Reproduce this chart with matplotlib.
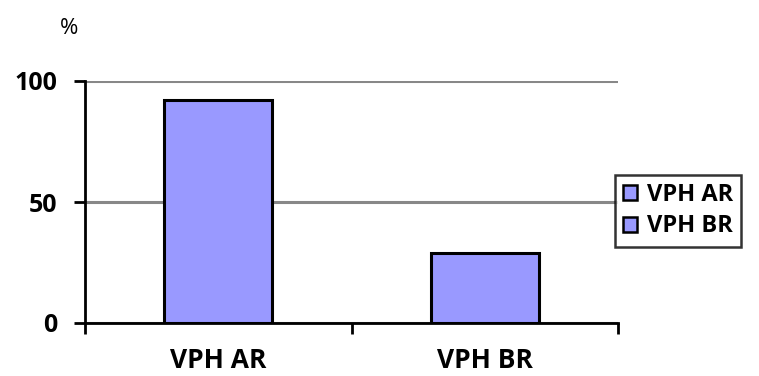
import matplotlib.pyplot as plt
from matplotlib.patches import Patch

# data
categories = ['VPH AR', 'VPH BR']
values = [92, 29]
yticks = [0, 50, 100]

plt.rcParams['font.family'] = ['Open Sans', 'DejaVu Sans']

fig = plt.figure(figsize=(7.59, 3.76), dpi=100)
ax = fig.add_axes([85 / 759, 1 - 323 / 376, (618 - 85) / 759, (323 - 81) / 376])

x = range(len(categories))
ax.bar(x, values, width=0.405, color='#9999ff', edgecolor='black', linewidth=2.2, zorder=3)

ax.set_xlim(-0.5, len(categories) - 0.5)
ax.set_ylim(0, 100)
ax.set_yticks(yticks)
ax.set_yticklabels([str(t) for t in yticks], fontsize=18, fontweight='bold')
ax.yaxis.grid(True, color='#888888', linewidth=2.2, zorder=0)
ax.tick_params(axis='y', direction='out', length=8, width=2, pad=12)

ax.set_xticks(list(x))
ax.set_xticklabels(categories, fontsize=19, fontweight='bold')
ax.set_xticks([-0.5, 0.5, 1.5], minor=True)
ax.tick_params(axis='x', which='major', length=0, pad=17)
ax.tick_params(axis='x', which='minor', direction='out', length=8, width=2)

for s in ['top', 'right']:
    ax.spines[s].set_visible(False)
for s in ['left', 'bottom']:
    ax.spines[s].set_linewidth(2)

fig.text(69 / 759, 1 - 28 / 376, '%', fontsize=16, ha='center', va='center')

handles = [Patch(facecolor='#9999ff', edgecolor='black', linewidth=1.8, label=c) for c in categories]
leg = fig.legend(handles=handles, loc='upper left', bbox_to_anchor=(615 / 759, 1 - 175 / 376),
                 frameon=True, fancybox=False, edgecolor='black', handlelength=0.6, handleheight=0.6,
                 handletextpad=0.4, borderpad=0.35, labelspacing=0.3, borderaxespad=0,
                 prop={'size': 17, 'weight': 'bold'})
leg.get_frame().set_linewidth(1.8)

fig.savefig('out.png', dpi=100)
